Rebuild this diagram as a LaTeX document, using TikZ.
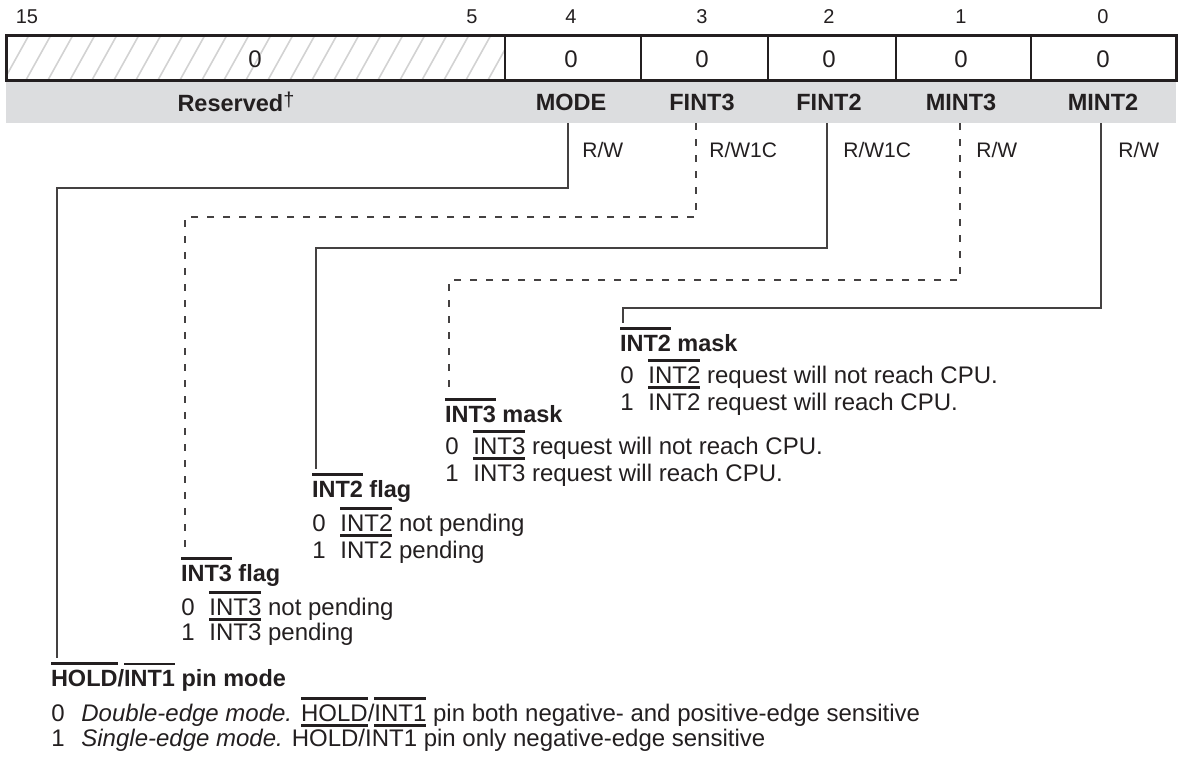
\documentclass[tikz,border=0pt]{standalone}
\usepackage{fontspec}
\setmainfont{Liberation Sans}
\usepackage{tikz}

\definecolor{ink}{HTML}{231F20}
\definecolor{bandgray}{HTML}{DCDDDF}
\definecolor{hatchgray}{HTML}{D2D2D2}

% bar over a name (active low), and bar over and under
\newcommand{\notbar}[1]{\vbox{\hrule height 1.4pt\kern 2.2pt\hbox{#1}}}
\newcommand{\notbarul}[1]{\notbar{\vtop{\hbox{#1}\kern 1.6pt\hrule height 1.4pt}}}
\newcommand{\bitrow}[2]{\makebox[14pt][l]{#1}#2}

\tikzset{
  bitno/.style={inner sep=0pt, text=ink, font=\fontsize{10}{12}\selectfont},
  cellval/.style={inner sep=0pt, text=ink, font=\fontsize{12}{14}\selectfont},
  field/.style={inner sep=0pt, text=ink, font=\bfseries\fontsize{11.75}{14}\selectfont},
  access/.style={inner sep=0pt, anchor=west, text=ink, font=\fontsize{10.5}{12}\selectfont},
  title/.style={inner sep=0pt, outer sep=0pt, anchor=base west, text=ink, font=\bfseries\fontsize{11.75}{14}\selectfont},
  desc/.style={inner sep=0pt, anchor=base west, text=ink, font=\fontsize{12}{13}\selectfont},
  frame/.style={draw=ink, line width=1.5pt},
  divider/.style={draw=ink, line width=0.7pt},
  hatchline/.style={draw=hatchgray, line width=0.8pt},
  wire/.style={draw=ink!85, line width=0.6pt, shorten >=2pt},
  dashwire/.style={wire, dash pattern=on 3.5pt off 4.5pt}
}

\begin{document}
\begin{tikzpicture}[x=0.5pt, y=-0.5pt]
        \useasboundingbox (0,0) rectangle (1178,756);

        % register row
        \fill[bandgray] (6,80) rectangle (1176,123);
        \begin{scope}
          \clip (6,35) rectangle (505,80);
          \foreach \hx in {-40,-18,...,520}
            \draw[hatchline] (\hx,80) -- (\hx+25,35);
        \end{scope}
        \foreach \dx in {505,641,768,896,1031}
          \draw[divider] (\dx,35) -- (\dx,80);
        \draw[frame] (6,35) rectangle (1176,80);

        % bit numbers
        \node[bitno] (b15) at (27,17) {15};
        \node[bitno] (b5) at (472,17) {5};
        \node[bitno] (b4) at (571,17) {4};
        \node[bitno] (b3) at (702,17) {3};
        \node[bitno] (b2) at (829,17) {2};
        \node[bitno] (b1) at (961,17) {1};
        \node[bitno] (b0) at (1103,17) {0};

        % reset values
        \node[cellval] (vres) at (255,59) {0};
        \node[cellval] (vmode) at (571,59) {0};
        \node[cellval] (vfint3) at (702,59) {0};
        \node[cellval] (vfint2) at (829,59) {0};
        \node[cellval] (vmint3) at (961,59) {0};
        \node[cellval] (vmint2) at (1103,59) {0};

        % field names
        \node[field] (fres) at (236,102) {Reserved\raisebox{2.5pt}{\mdseries\fontsize{10}{10}\selectfont †}};
        \node[field] (fmode) at (571,102) {MODE};
        \node[field] (ffint3) at (702,102) {FINT3};
        \node[field] (ffint2) at (829,102) {FINT2};
        \node[field] (fmint3) at (961,102) {MINT3};
        \node[field] (fmint2) at (1103,102) {MINT2};

        % access types
        \node[access] (amode) at (582,150) {R/W};
        \node[access] (afint3) at (709,150) {R/W1C};
        \node[access] (afint2) at (843,150) {R/W1C};
        \node[access] (amint3) at (976,150) {R/W};
        \node[access] (amint2) at (1118,150) {R/W};

        % taps under the field band
        \coordinate (tapmode) at (568,123);
        \coordinate (tapfint3) at (696,123);
        \coordinate (tapfint2) at (827,123);
        \coordinate (tapmint3) at (960,123);
        \coordinate (tapmint2) at (1101,123);

        % MINT2
        \node[title] (tmask2) at (620,351) {\notbar{INT2} mask};
        \node[desc] (dmask2a) at ([yshift=-16pt]tmask2.base west) {\bitrow{0}{\notbarul{INT2} request will not reach CPU.}};
        \node[desc] (dmask2b) at ([yshift=-13.5pt]dmask2a.base west) {\bitrow{1}{INT2 request will reach CPU.}};

        % MINT3
        \node[title] (tmask3) at (445,422) {\notbar{INT3} mask};
        \node[desc] (dmask3a) at ([yshift=-16pt]tmask3.base west) {\bitrow{0}{\notbarul{INT3} request will not reach CPU.}};
        \node[desc] (dmask3b) at ([yshift=-13.5pt]dmask3a.base west) {\bitrow{1}{INT3 request will reach CPU.}};

        % FINT2
        \node[title] (tflag2) at (312,497) {\notbar{INT2} flag};
        \node[desc] (dflag2a) at ([yshift=-17pt]tflag2.base west) {\bitrow{0}{\notbarul{INT2} not pending}};
        \node[desc] (dflag2b) at ([yshift=-13.5pt]dflag2a.base west) {\bitrow{1}{INT2 pending}};

        % FINT3
        \node[title] (tflag3) at (181,581) {\notbar{INT3} flag};
        \node[desc] (dflag3a) at ([yshift=-17pt]tflag3.base west) {\bitrow{0}{\notbarul{INT3} not pending}};
        \node[desc] (dflag3b) at ([yshift=-12.5pt]dflag3a.base west) {\bitrow{1}{INT3 pending}};

        % MODE
        \node[title] (thold) at (51,686) {\notbar{HOLD}/\notbar{INT1} pin mode};
        \node[desc] (dholda) at ([yshift=-17.5pt]thold.base west) {\bitrow{0}{\hspace{1pt}\textit{Double-edge mode.} \notbarul{HOLD}/\notbarul{INT1} pin both negative- and positive-edge sensitive}};
        \node[desc] (dholdb) at ([yshift=-12.5pt]dholda.base west) {\bitrow{1}{\hspace{1pt}\textit{Single-edge mode.} HOLD/INT1 pin only negative-edge sensitive}};

        % connectors
        \draw[wire] (tapmode) -- ++(0,65) -| ([xshift=3pt]thold.north west);
        \draw[dashwire] (tapfint3) -- ++(0,94) -| ([xshift=2pt]tflag3.north west);
        \draw[wire] (tapfint2) -- ++(0,125) -| ([xshift=2pt]tflag2.north west);
        \draw[dashwire] (tapmint3) -- ++(0,157) -| ([xshift=2pt]tmask3.north west);
        \draw[wire] (tapmint2) -- ++(0,185) -| ([xshift=1.5pt]tmask2.north west);
      \end{tikzpicture}
\end{document}
